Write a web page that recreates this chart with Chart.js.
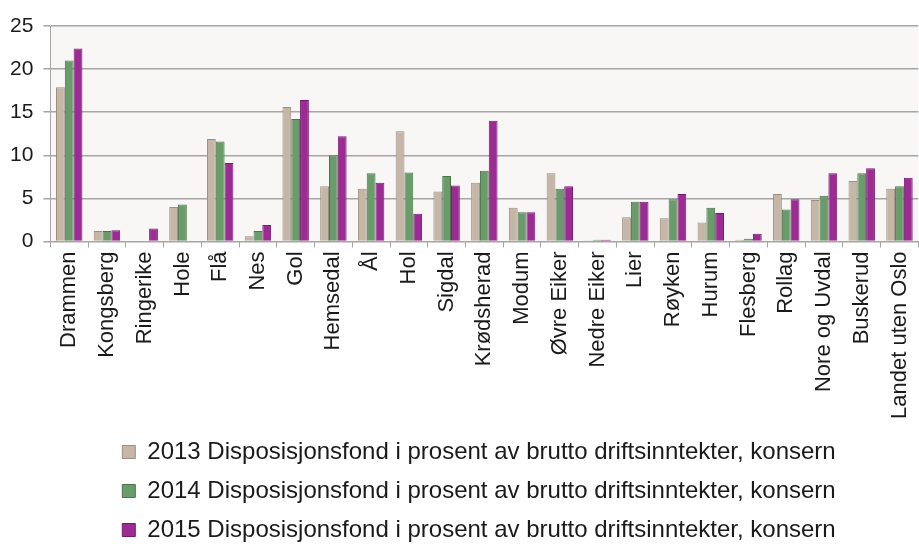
<!DOCTYPE html>
<html>
<head>
<meta charset="utf-8">
<script src="https://cdn.jsdelivr.net/npm/chart.js@4"></script>
<style>
  html, body { margin: 0; padding: 0; background: #fff; overflow: hidden; }
  #wrap { width: 930px; height: 552px; }
</style>
</head>
<body>
<div id="wrap"><canvas id="chart" width="930" height="552"></canvas></div>
<script>
// Kommuner i Buskerud + sammenligning
const kommuner = ['Drammen', 'Kongsberg', 'Ringerike', 'Hole', 'Flå', 'Nes', 'Gol', 'Hemsedal', 'Ål', 'Hol',
    'Sigdal', 'Krødsherad', 'Modum', 'Øvre Eiker', 'Nedre Eiker', 'Lier', 'Røyken', 'Hurum', 'Flesberg',
    'Rollag', 'Nore og Uvdal', 'Buskerud', 'Landet uten Oslo'];

// Disposisjonsfond i prosent av brutto driftsinntekter
const verdier2013 = [17.9, 1.2, 0, 4.0, 11.9, 0.6, 15.6, 6.4, 6.1, 12.8, 5.8, 6.8, 3.9, 7.9, 0.1, 2.8, 2.7, 2.2, 0.2, 5.5, 4.8, 7.0, 6.1];
const verdier2014 = [21.0, 1.2, 0, 4.3, 11.6, 1.2, 14.2, 10.0, 7.9, 8.0, 7.6, 8.2, 3.4, 6.1, 0.2, 4.6, 4.9, 3.9, 0.3, 3.7, 5.3, 7.9, 6.4];
const verdier2015 = [22.4, 1.3, 1.5, 0, 9.1, 1.9, 16.4, 12.2, 6.8, 3.2, 6.5, 14.0, 3.4, 6.4, 0.2, 4.6, 5.5, 3.3, 0.9, 4.9, 7.9, 8.5, 7.4];

const yTicks = [0, 5, 10, 15, 20, 25];
const suffix = ' Disposisjonsfond i prosent av brutto driftsinntekter, konsern';

const ctx = document.getElementById('chart').getContext('2d');

// light background behind the plot area only
const plotBg = {
    id: 'plotBg',
    beforeDraw: chart => {
        const { ctx, chartArea: a } = chart;
        ctx.save();
        ctx.fillStyle = '#f8f7f6';
        ctx.fillRect(a.left, a.top, a.right - a.left, a.bottom - a.top);
        ctx.restore();
    }
};

// the legend block sits a bit right of centre in the original
const legendShift = {
    id: 'legendShift',
    afterLayout: chart => {
        chart.legend.left += 17;
        chart.legend.right += 17;
    }
};

new Chart(ctx, {
    type: 'bar',
    data: {
        labels: kommuner,
        datasets: [
            { label: '2013' + suffix, data: verdier2013, backgroundColor: '#c5b6a7', borderColor: '#9c8f82', borderWidth: 1 },
            { label: '2014' + suffix, data: verdier2014, backgroundColor: '#6a9b6a', borderColor: '#4b744b', borderWidth: 1 },
            { label: '2015' + suffix, data: verdier2015, backgroundColor: '#9c2b94', borderColor: '#761a70', borderWidth: 1 }
        ]
    },
    options: {
        responsive: false,
        animation: false,
        layout: { padding: { left: 0, top: 26, right: 6, bottom: 0 } },
        datasets: { bar: { categoryPercentage: 0.7, barPercentage: 1.0 } },
        scales: {
            x: {
                afterFit: axis => { axis.height += 2; },
                grid: { drawOnChartArea: false, color: '#a6a6a6', tickLength: 6, offset: true },
                border: { color: '#a6a6a6' },
                ticks: {
                    color: '#1a1a1a', maxRotation: 90, minRotation: 90, autoSkip: false, padding: 4,
                    font: { family: '"Liberation Sans", Arial, sans-serif', size: 22 }
                }
            },
            y: {
                min: 0, max: 25,
                afterBuildTicks: axis => { axis.ticks = yTicks.map(v => ({ value: v })); },
                grid: { color: '#a6a6a6', tickLength: 7, lineWidth: 1.5 },
                border: { color: '#a6a6a6' },
                ticks: {
                    color: '#1a1a1a', padding: 10,
                    font: { family: '"Liberation Sans", Arial, sans-serif', size: 21 }
                }
            }
        },
        plugins: {
            legend: {
                position: 'bottom',
                labels: {
                    color: '#1a1a1a', boxWidth: 13, boxHeight: 13, padding: 15,
                    font: { family: '"Liberation Sans", Arial, sans-serif', size: 24 }
                }
            },
            tooltip: { enabled: false }
        }
    },
    plugins: [plotBg, legendShift]
});
</script>
</body>
</html>
